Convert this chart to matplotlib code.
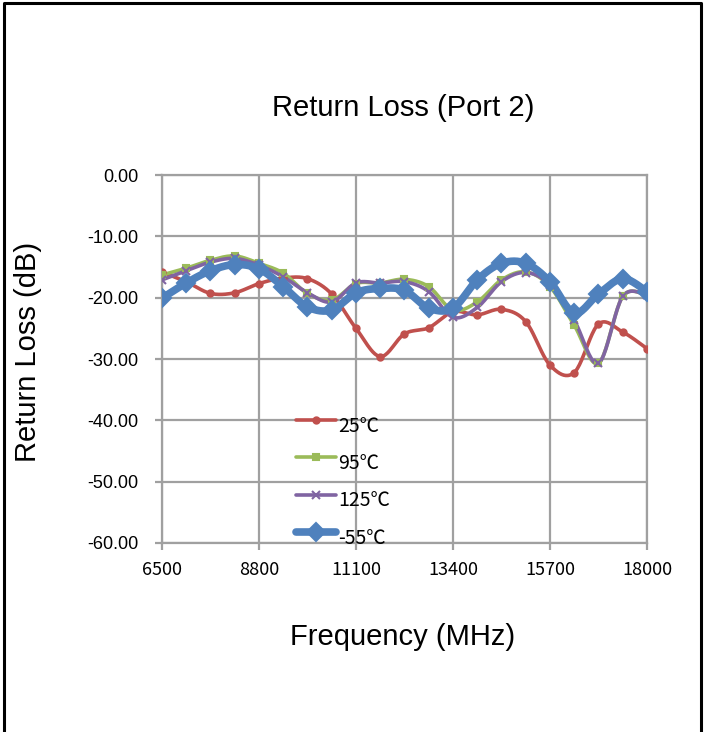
import numpy as np
import matplotlib
matplotlib.use("Agg")
import matplotlib.pyplot as plt
from matplotlib.lines import Line2D
from matplotlib.transforms import ScaledTranslation

plt.rcParams["font.family"] = ["Liberation Sans", "DejaVu Sans"]

# frequency points, every 575 MHz
freq = [6500 + 575 * i for i in range(21)]

rl_25 = [-15.8, -17.4, -19.3, -19.2, -17.7, -16.8, -16.9, -19.4, -25.0, -29.6, -25.9,
         -24.9, -22.3, -22.8, -21.9, -23.9, -31.0, -32.2, -24.3, -25.6, -28.3]
rl_95 = [-16.3, -15.2, -13.9, -13.2, -14.4, -16.0, -19.3, -20.4, -17.7, -17.6, -17.0,
         -18.2, -22.0, -20.7, -17.1, -15.8, -18.2, -24.5, -30.7, -19.8, -19.6]
rl_125 = [-17.1, -15.6, -14.2, -13.6, -14.7, -16.6, -19.2, -20.7, -17.6, -17.6, -17.4,
          -19.0, -23.2, -21.6, -17.4, -15.9, -17.9, -23.7, -30.7, -19.8, -19.6]
rl_m55 = [-20.1, -17.6, -15.6, -14.6, -15.3, -18.2, -21.5, -22.0, -19.2, -18.5, -18.8,
          -21.7, -21.7, -17.1, -14.4, -14.4, -17.4, -22.5, -19.4, -16.9, -19.0]

labels = ["25℃", "95℃", "125℃", "-55℃"]
x_ticks = [6500, 8800, 11100, 13400, 15700, 18000]
y_ticks = [0, -10, -20, -30, -40, -50, -60]

CJK = ["Noto Sans CJK SC", "DejaVu Sans"]


def smooth(x, y, n=24):
    # Excel-style smoothed line: cubic Bezier through each point pair
    p = np.column_stack([x, y]).astype(float)
    out = [p[0]]
    t = np.linspace(0, 1, n)[1:, None]
    for i in range(len(p) - 1):
        p0 = p[i - 1] if i > 0 else p[i]
        p1, p2 = p[i], p[i + 1]
        p3 = p[i + 2] if i + 2 < len(p) else p[i + 1]
        c1 = p1 + (p2 - p0) / 6
        c2 = p2 - (p3 - p1) / 6
        seg = ((1 - t) ** 3) * p1 + 3 * ((1 - t) ** 2) * t * c1 \
            + 3 * (1 - t) * t ** 2 * c2 + t ** 3 * p2
        out.extend(seg)
    out = np.array(out)
    return out[:, 0], out[:, 1]


fig = plt.figure(figsize=(7.07, 7.32), dpi=100)
ax = fig.add_axes([0.2291, 0.2582, 0.686, 0.5027])

series = [
    (rl_25, "#C0504D", "o", 4.5, 2.6),
    (rl_95, "#9BBB59", "s", 4.5, 2.6),
    (rl_125, "#8064A2", "x", 5.5, 2.6),
    (rl_m55, "#4F81BD", "D", 9.5, 5.5),
]
handles = []
for (vals, col, mk, ms, lw), lab in zip(series, labels):
    sx, sy = smooth(freq, vals)
    ax.plot(sx, sy, color=col, lw=lw, solid_capstyle="round", zorder=3)
    ax.plot(freq, vals, ls="none", marker=mk, ms=ms, color=col,
            mec=col, mew=1.5, zorder=4)
    handles.append(Line2D([], [], color=col, lw=lw, marker=mk, ms=ms,
                          mec=col, mew=1.5, solid_capstyle="round"))

ax.set_xlim(6500, 18000)
ax.set_ylim(-60, 0)
ax.set_xticks(x_ticks)
ax.set_xticklabels([str(v) for v in x_ticks], fontfamily=CJK)
ax.set_yticks(y_ticks)
ax.set_yticklabels([f"{v:.2f}" for v in y_ticks])
ax.grid(True, color="#A0A0A0", lw=1.6)
ax.set_axisbelow(True)
for s in ax.spines.values():
    s.set_color("#A0A0A0")
    s.set_linewidth(1.6)
ax.tick_params(direction="out", length=5, width=1.6, color="#A0A0A0")
ax.tick_params(axis="y", labelsize=13, pad=12)
ax.tick_params(axis="x", labelsize=13, pad=8)

fig.text(0.570, 0.852, "Return Loss (Port 2)", ha="center", va="center", fontsize=21)
fig.text(0.570, 0.130, "Frequency (MHz)", ha="center", va="center", fontsize=21)
fig.text(0.040, 0.519, "Return Loss (dB)", ha="center", va="center",
         fontsize=21, rotation=90)

leg = ax.legend(handles, labels, loc="upper left", bbox_to_anchor=(0.261, 0.380),
                frameon=False, handlelength=2.05, labelspacing=0.84,
                handletextpad=0.1, borderaxespad=0,
                prop={"family": CJK, "size": 14})
# Excel puts the legend text a bit below the sample line
for t in leg.get_texts():
    t.set_transform(t.get_transform() + ScaledTranslation(0, -3.5 / 72, fig.dpi_scale_trans))

# outer chart border (bottom edge cropped off)
bx0, bx1, by1 = 4 / 707, 701 / 707, 1 - 2.5 / 732
fig.add_artist(Line2D([bx0, bx0, bx1, bx1], [0, by1, by1, 0],
                      transform=fig.transFigure, color="black", lw=2.2))

fig.savefig("out.png", dpi=100, facecolor="white")
